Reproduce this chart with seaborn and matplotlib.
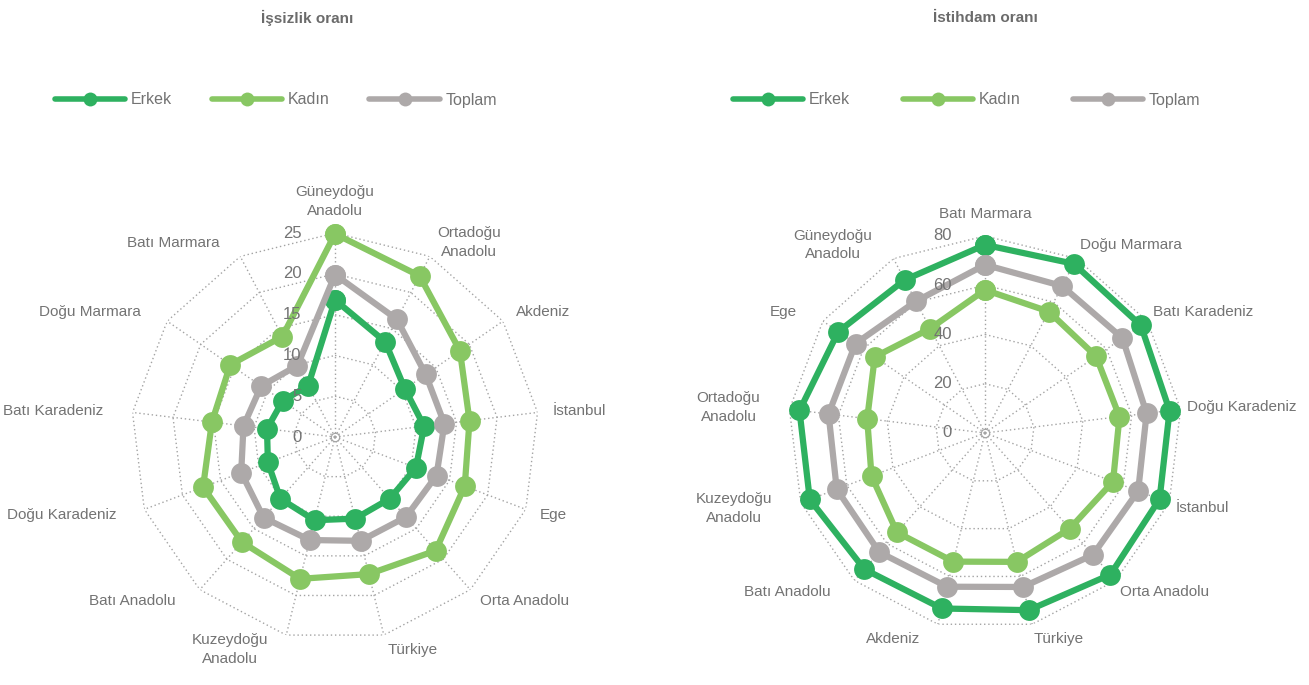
import numpy as np
import pandas as pd
import seaborn as sns
import matplotlib.pyplot as plt
from matplotlib.lines import Line2D

# İşsizlik oranı (%)
issizlik_kategoriler = ['Güneydoğu\nAnadolu', 'Ortadoğu\nAnadolu', 'Akdeniz', 'İstanbul', 'Ege',
                        'Orta Anadolu', 'Türkiye', 'Kuzeydoğu\nAnadolu', 'Batı Anadolu',
                        'Doğu Karadeniz', 'Batı Karadeniz', 'Doğu Marmara', 'Batı Marmara']
issizlik_erkek = [16.8, 13.2, 10.4, 11.0, 10.6, 10.1, 10.3, 10.5, 10.1, 8.8, 8.4, 7.8, 7.1]
issizlik_kadin = [24.9, 22.3, 18.6, 16.6, 17.0, 18.6, 17.3, 17.9, 17.2, 17.3, 15.2, 15.6, 13.9]
issizlik_toplam = [19.9, 16.3, 13.5, 13.5, 13.3, 13.1, 13.1, 13.0, 13.2, 12.3, 11.3, 11.0, 9.9]
issizlik_ticks = [0, 5, 10, 15, 20, 25]

# İstihdam oranı (%)
istihdam_kategoriler = ['Batı Marmara', 'Doğu Marmara', 'Batı Karadeniz', 'Doğu Karadeniz', 'İstanbul',
                        'Orta Anadolu', 'Türkiye', 'Akdeniz', 'Batı Anadolu', 'Kuzeydoğu\nAnadolu',
                        'Ortadoğu\nAnadolu', 'Ege', 'Güneydoğu\nAnadolu']
istihdam_erkek = [76.4, 77.6, 76.9, 75.5, 75.8, 76.8, 74.1, 73.4, 73.9, 76.1, 75.9, 72.4, 70.2]
istihdam_kadin = [58.1, 55.7, 54.8, 55.0, 55.6, 51.9, 53.9, 53.8, 53.9, 49.3, 48.2, 54.4, 47.9]
istihdam_toplam = [68.3, 67.4, 67.8, 66.1, 66.5, 66.1, 64.4, 64.3, 64.7, 64.4, 64.0, 63.9, 60.4]
istihdam_ticks = [0, 20, 40, 60, 80]

seriler = ['Erkek', 'Kadın', 'Toplam']
renkler = {'Erkek': '#2EB160', 'Kadın': '#88C763', 'Toplam': '#ADA9A9'}
GRID = '#A3A3A3'
TEXT = '#737373'

sns.set_theme(style='white')
plt.rcParams['font.family'] = ['Liberation Sans', 'DejaVu Sans']

fig = plt.figure(figsize=(13.09, 6.85), dpi=100)


def radar(ax, kategoriler, degerler, ticks, pad_sag=11):
    n = len(kategoriler)
    rmax = ticks[-1]
    theta = np.linspace(0, 2 * np.pi, n, endpoint=False)
    kapali = np.append(theta, theta[0])
    ax.set_theta_zero_location('N')
    ax.set_theta_direction(-1)
    ax.set_facecolor('none')
    ax.grid(False)
    ax.spines['polar'].set_visible(False)

    # polygon grid + spokes
    for t in ticks[1:]:
        ax.plot(kapali, [t] * (n + 1), color=GRID, lw=1, ls=(0, (1, 2)), zorder=1)
    for a in theta:
        ax.plot([a, a], [0, rmax], color=GRID, lw=1, ls=(0, (1, 2)), zorder=1)
    ax.plot(0, 0, marker='o', ms=6, mfc='none', mec=GRID, mew=0.8, zorder=1)

    rows = []
    for ad, vals in zip(seriler, degerler):
        for a, v in zip(kapali, list(vals) + [vals[0]]):
            rows.append({'theta': a, 'deger': v, 'seri': ad})
    df = pd.DataFrame(rows)
    sns.lineplot(data=df, x='theta', y='deger', hue='seri', palette=renkler, sort=False,
                 estimator=None, marker='o', markersize=15, markeredgewidth=0, linewidth=4.5,
                 legend=False, clip_on=False, ax=ax, zorder=3)
    ax.set_xlabel('')
    ax.set_ylabel('')
    ax.set_xticks([])
    ax.set_yticks([])
    ax.set_xlim(0, 2 * np.pi)
    ax.set_ylim(0, rmax)

    for t in ticks:
        ax.annotate(str(t), xy=(0, t), xytext=(-24, 0), textcoords='offset points',
                    ha='right', va='center', fontsize=12, color=TEXT)

    # category labels just outside the outer ring
    pad = 11
    for a, k in zip(theta, kategoriler):
        s, c = np.sin(a), np.cos(a)
        dx, dy = s * pad, c * pad
        if abs(s) < 0.05:
            ha, va = 'center', ('bottom' if c > 0 else 'top')
        elif s > 0:
            ha, va = 'left', 'center'
            dx = s * pad_sag
        else:
            ha, va = 'right', 'center'
            dx -= 10
        ax.annotate(k, xy=(a, rmax), xytext=(dx, dy), textcoords='offset points',
                    ha=ha, va=va, fontsize=11, color=TEXT, linespacing=1.45,
                    multialignment='center', annotation_clip=False)


ax1 = fig.add_axes([0.1001, 0.0642, 0.3117, 0.5956], projection='polar')
ax2 = fig.add_axes([0.6020, 0.0803, 0.3010, 0.5752], projection='polar')
radar(ax1, issizlik_kategoriler, [issizlik_erkek, issizlik_kadin, issizlik_toplam], issizlik_ticks)
radar(ax2, istihdam_kategoriler, [istihdam_erkek, istihdam_kadin, istihdam_toplam], istihdam_ticks,
      pad_sag=5)

fig.text(307 / 1309, 1 - 18 / 685, 'İşsizlik oranı', ha='center', va='center',
         fontsize=11, fontweight='bold', color='#6B6B6B')
fig.text(985 / 1309, 1 - 18 / 685, 'İstihdam oranı', ha='center', va='center',
         fontsize=11, fontweight='bold', color='#6B6B6B')

handles = [Line2D([], [], color=renkler[s], lw=4, marker='o', ms=10, mew=0) for s in seriler]
for x0, bosluk in ((47 / 1309, 2.5), (725 / 1309, 3.3)):
    fig.legend(handles, seriler, loc='center left', bbox_to_anchor=(x0, 1 - 100 / 685),
               ncol=3, frameon=False, fontsize=11.5, handlelength=4.4, handletextpad=0.35,
               columnspacing=bosluk, borderpad=0, labelcolor=TEXT)

fig.savefig('out.png', dpi=100, facecolor='white')
